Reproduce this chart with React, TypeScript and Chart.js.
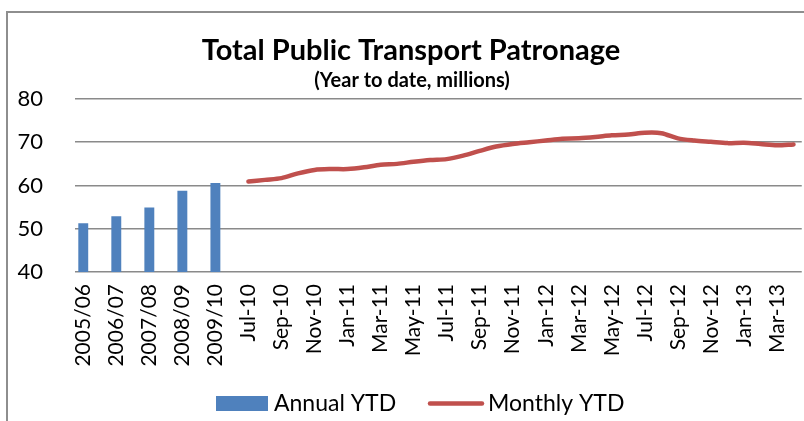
import React, { useEffect, useRef } from "react";
import { Chart, registerables } from "chart.js";

Chart.register(...registerables);

const TITLE = "Total Public Transport Patronage";
const SUBTITLE = "(Year to date, millions)";
const ANNUAL_NAME = "Annual YTD";
const MONTHLY_NAME = "Monthly YTD";

const annualLabels = ["2005/06", "2006/07", "2007/08", "2008/09", "2009/10"];
const annualValues = [51.3, 52.9, 54.9, 58.8, 60.6];

const monthlyLabels = [
  "Jul-10", "Aug-10", "Sep-10", "Oct-10", "Nov-10", "Dec-10",
  "Jan-11", "Feb-11", "Mar-11", "Apr-11", "May-11", "Jun-11",
  "Jul-11", "Aug-11", "Sep-11", "Oct-11", "Nov-11", "Dec-11",
  "Jan-12", "Feb-12", "Mar-12", "Apr-12", "May-12", "Jun-12",
  "Jul-12", "Aug-12", "Sep-12", "Oct-12", "Nov-12", "Dec-12",
  "Jan-13", "Feb-13", "Mar-13", "Apr-13",
];
const monthlyValues = [
  60.9, 61.3, 61.7, 62.8, 63.6, 63.8, 63.8, 64.2, 64.8, 65.0, 65.5, 65.9,
  66.1, 66.9, 68.0, 69.0, 69.6, 70.0, 70.4, 70.8, 70.9, 71.2, 71.6, 71.8,
  72.2, 72.1, 70.9, 70.4, 70.1, 69.8, 69.9, 69.6, 69.3, 69.5,
];

const yMin = 40;
const yMax = 80;
const yStep = 10;

const BAR_COLOR = "#4F81BD";
const LINE_COLOR = "#C0504D";
const GRID_COLOR = "#8a8a8a";
const FONT = "Lato, 'Open Sans', sans-serif";

// Annual categories are followed by an empty slot so they sit on the same grid as every second month
const labels: string[] = [];
const barData: (number | null)[] = [];
const lineData: (number | null)[] = [];
annualLabels.forEach((l, i) => {
  labels.push(l, "");
  barData.push(annualValues[i], null);
  lineData.push(null, null);
});
monthlyLabels.forEach((l, i) => {
  labels.push(l);
  barData.push(null);
  lineData.push(monthlyValues[i]);
});

const decorPlugin = {
  id: "decor",
  beforeDraw(chart: any) {
    const ctx = chart.ctx;
    ctx.save();
    ctx.strokeStyle = "#8e8e8e";
    ctx.lineWidth = 2;
    ctx.beginPath();
    ctx.moveTo(7, 421);
    ctx.lineTo(7, 12);
    ctx.lineTo(804, 12);
    ctx.stroke();
    ctx.restore();
  },
  afterDraw(chart: any) {
    const ctx = chart.ctx;
    ctx.save();
    ctx.fillStyle = "#000";
    ctx.textAlign = "center";
    ctx.textBaseline = "alphabetic";
    ctx.font = `bold 29px ${FONT}`;
    ctx.fillText(TITLE, 411, 60);
    ctx.font = `bold 20px ${FONT}`;
    ctx.fillText(SUBTITLE, 412, 87);

    // legend
    ctx.textAlign = "left";
    ctx.font = `23px ${FONT}`;
    ctx.fillStyle = BAR_COLOR;
    ctx.fillRect(216, 396, 52, 15);
    ctx.fillStyle = "#000";
    ctx.fillText(ANNUAL_NAME, 274, 411);
    ctx.strokeStyle = LINE_COLOR;
    ctx.lineWidth = 4.5;
    ctx.lineCap = "round";
    ctx.beginPath();
    ctx.moveTo(430, 403.5);
    ctx.lineTo(482, 403.5);
    ctx.stroke();
    ctx.fillText(MONTHLY_NAME, 488, 411);
    ctx.restore();
  },
};

export default function App() {
  const ref = useRef<HTMLCanvasElement | null>(null);

  useEffect(() => {
    if (!ref.current) return;
    const chart = new Chart(ref.current, {
      type: "bar",
      data: {
        labels,
        datasets: [
          {
            type: "bar",
            label: ANNUAL_NAME,
            data: barData,
            backgroundColor: BAR_COLOR,
            barPercentage: 0.6,
            categoryPercentage: 1,
            order: 2,
          },
          {
            type: "line",
            label: MONTHLY_NAME,
            data: lineData,
            borderColor: LINE_COLOR,
            backgroundColor: LINE_COLOR,
            borderWidth: 4.5,
            pointRadius: 0,
            tension: 0.3,
            borderCapStyle: "round",
            borderJoinStyle: "round",
            order: 1,
          } as any,
        ],
      },
      options: {
        animation: false,
        responsive: false,
        devicePixelRatio: 1,
        layout: { padding: { top: 99, left: 0, right: 0, bottom: 0 } },
        plugins: {
          legend: { display: false },
          title: { display: false },
          tooltip: { enabled: false },
        },
        scales: {
          x: {
            offset: true,
            grid: { display: false, drawTicks: false },
            border: { display: false },
            ticks: {
              autoSkip: false,
              minRotation: 90,
              maxRotation: 90,
              padding: 12,
              color: "#000",
              font: { family: FONT, size: 21 },
              callback: (_v: any, i: number) => (i % 2 === 0 ? labels[i] : ""),
            },
            afterFit: (s: any) => {
              s.height = 149;
              s.paddingLeft = 0;
              s.paddingRight = 0;
            },
          },
          y: {
            min: yMin,
            max: yMax,
            grid: { color: GRID_COLOR, lineWidth: 1.6, drawTicks: false },
            border: { display: false },
            ticks: {
              stepSize: yStep,
              padding: 32,
              color: "#000",
              font: { family: FONT, size: 22 },
            },
            afterFit: (s: any) => {
              s.width = 75;
              s.paddingTop = 0;
              s.paddingBottom = 0;
            },
          },
        },
      },
      plugins: [decorPlugin],
    });
    let alive = true;
    if ((document as any).fonts) {
      Promise.all([
        (document as any).fonts.load(`21px Lato`),
        (document as any).fonts.load(`bold 29px Lato`),
      ])
        .catch(() => null)
        .then(() => {
          if (alive) chart.update();
        });
    }
    return () => {
      alive = false;
      chart.destroy();
    };
  }, []);

  return (
    <div style={{ position: "absolute", left: 0, top: 0, width: 804, height: 421, background: "#fff" }}>
      <canvas ref={ref} width={804} height={421} style={{ display: "block" }} />
    </div>
  );
}
